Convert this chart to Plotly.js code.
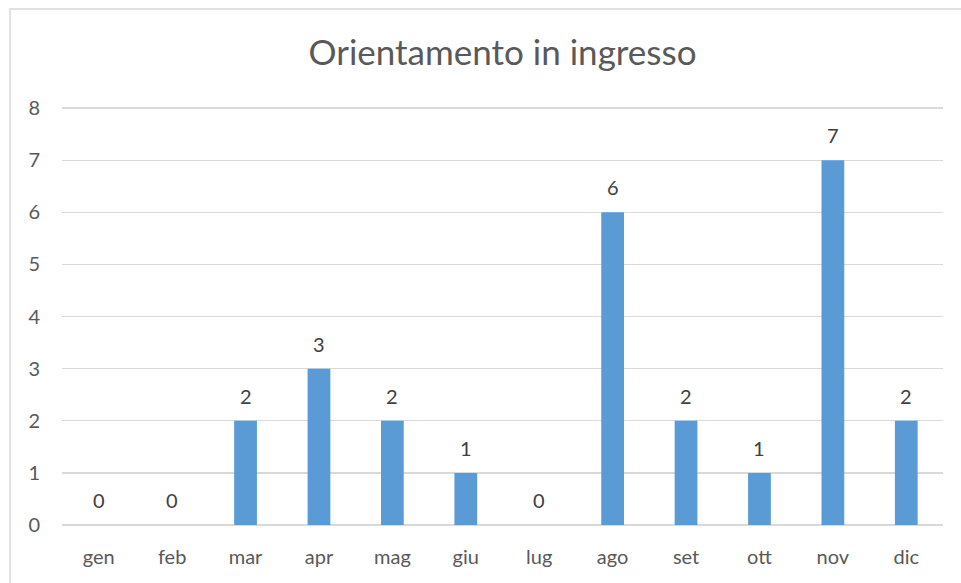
<!DOCTYPE html>
<html>
<head>
<meta charset="utf-8">
<script src="https://cdn.plot.ly/plotly-3.0.1.min.js"></script>
<style>html,body{margin:0;padding:0;background:#fff;}#chart{width:961px;height:583px;}</style>
</head>
<body>
<div id="chart"></div>
<script>
const months = ["gen","feb","mar","apr","mag","giu","lug","ago","set","ott","nov","dic"];
const values = [0,0,2,3,2,1,0,6,2,1,7,2];
const yTicks = [0,1,2,3,4,5,6,7,8];

const W = 961, H = 583, L = 62, R = 18, T = 106, B = 58;
const pw = W - L - R, ph = H - T - B;
const FONT = 'Lato, "Liberation Sans", sans-serif';

const trace = {
  type: 'bar',
  x: months,
  y: values,
  marker: {color: '#5B9BD5'},
  hoverinfo: 'x+y'
};

const annotations = months.map((m, i) => ({
  x: m, y: values[i], xref: 'x', yref: 'y',
  text: String(values[i]), showarrow: false,
  yanchor: 'middle', yshift: 25,
  font: {family: FONT, size: 20, color: '#404040'}
}));

const layout = {
  width: W, height: H,
  margin: {l: L, r: R, t: T, b: B, pad: 0},
  paper_bgcolor: '#ffffff', plot_bgcolor: '#ffffff',
  bargap: 0.69,
  showlegend: false,
  title: {
    text: 'Orientamento in ingresso',
    font: {family: FONT, size: 35, color: '#595959'},
    x: 0.5, xref: 'paper', xanchor: 'center',
    y: 1 - 53 / H, yref: 'container', yanchor: 'middle'
  },
  xaxis: {
    type: 'category',
    showgrid: false, zeroline: false, showline: false,
    ticks: '', ticklabelstandoff: 18,
    tickfont: {family: FONT, size: 20, color: '#595959'}
  },
  yaxis: {
    range: [0, 8.04], tickvals: yTicks, ticktext: yTicks.map(String),
    showgrid: true, gridcolor: '#d9d9d9', gridwidth: 1.3,
    zeroline: true, zerolinecolor: '#d9d9d9', zerolinewidth: 1.3,
    showline: false, ticks: '', ticklabelstandoff: 21,
    tickfont: {family: FONT, size: 20, color: '#595959'}
  },
  annotations: annotations,
  shapes: [{
    type: 'rect', xref: 'paper', yref: 'paper',
    x0: (10 - L) / pw, x1: (975 - L) / pw,
    y0: (H - T - 600) / ph, y1: (H - B - 9) / ph,
    line: {color: '#d9d9d9', width: 1.5}, fillcolor: 'rgba(0,0,0,0)', layer: 'below'
  }]
};

Plotly.newPlot('chart', [trace], layout, {displayModeBar: false, staticPlot: true});
</script>
</body>
</html>
